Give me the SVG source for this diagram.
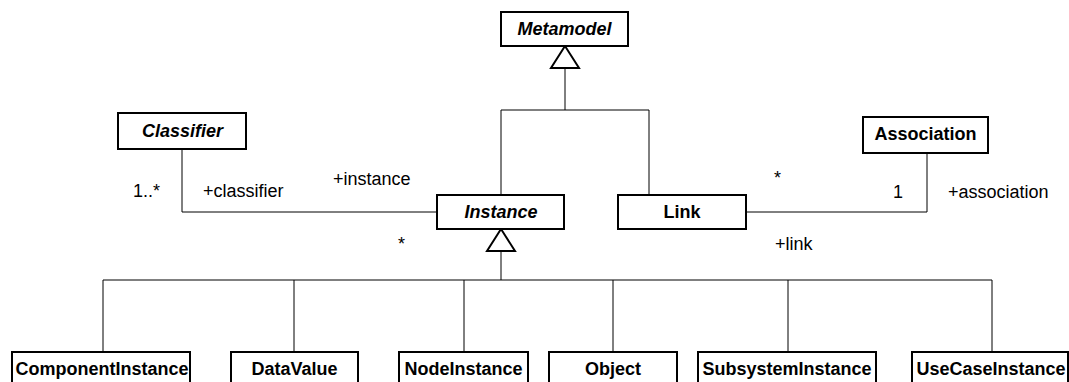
<svg xmlns="http://www.w3.org/2000/svg" width="1069" height="382" viewBox="0 0 1069 382">
<style>
.box{fill:#fff;stroke:#000;stroke-width:2}
.t{font-family:"Liberation Sans",Arial,sans-serif;font-size:18px;font-weight:bold;fill:#000;text-anchor:middle}
.i{font-style:italic}
.l{font-family:"Liberation Sans",Arial,sans-serif;font-size:18px;fill:#000}
.c{fill:none;stroke:#000;stroke-width:1}
.tri{fill:#fff;stroke:#000;stroke-width:2;stroke-linejoin:miter}
</style>
<rect width="1069" height="382" fill="#fff"/>
<g id="connectors">
<polyline class="c" points="565,68 565,110"/>
<polyline class="c" points="501,195 501,110 649,110 649,195"/>
<polyline class="c" points="182,149 182,212 437,212"/>
<polyline class="c" points="746,212 927,212 927,153"/>
<polyline class="c" points="501,251 501,280"/>
<polyline class="c" points="103,352 103,280 992,280 992,352"/>
<line class="c" x1="294" y1="280" x2="294" y2="352"/>
<line class="c" x1="464" y1="280" x2="464" y2="352"/>
<line class="c" x1="613" y1="280" x2="613" y2="352"/>
<line class="c" x1="788" y1="280" x2="788" y2="352"/>
<polygon class="tri" points="565,46 551,68 579,68"/>
<polygon class="tri" points="501,229 487,251 515,251"/>
<text class="l" x="133" y="197">1..*</text>
<text class="l" x="203" y="197">+classifier</text>
<text class="l" x="333" y="185">+instance</text>
<text class="l" x="398" y="250">*</text>
<text class="l" x="774" y="184">*</text>
<text class="l" x="893" y="198">1</text>
<text class="l" x="948" y="198">+association</text>
<text class="l" x="775" y="250">+link</text>
</g>
<g id="Metamodel"><rect class="box" x="501" y="12" width="127" height="34"/><text class="t i" x="564.5" y="35">Metamodel</text></g>
<g id="Classifier"><rect class="box" x="118" y="113" width="128" height="36"/><text class="t i" x="182.5" y="137">Classifier</text></g>
<g id="Association"><rect class="box" x="863" y="117" width="125" height="36"/><text class="t" x="925.5" y="140">Association</text></g>
<g id="Instance"><rect class="box" x="437" y="195" width="127" height="34"/><text class="t i" x="501" y="218">Instance</text></g>
<g id="Link"><rect class="box" x="618" y="195" width="128" height="34"/><text class="t" x="682" y="218">Link</text></g>
<g id="ComponentInstance"><rect class="box" x="12" y="352" width="178" height="40"/><text class="t" x="102" y="375">ComponentInstance</text></g>
<g id="DataValue"><rect class="box" x="231" y="352" width="127" height="40"/><text class="t" x="294.5" y="375">DataValue</text></g>
<g id="NodeInstance"><rect class="box" x="399" y="352" width="129" height="40"/><text class="t" x="463.5" y="375">NodeInstance</text></g>
<g id="Object"><rect class="box" x="549" y="352" width="128" height="40"/><text class="t" x="613" y="375">Object</text></g>
<g id="SubsystemInstance"><rect class="box" x="698" y="352" width="178" height="40"/><text class="t" x="787" y="375">SubsystemInstance</text></g>
<g id="UseCaseInstance"><rect class="box" x="912" y="352" width="156" height="40"/><text class="t" x="991" y="375">UseCaseInstance</text></g>
</svg>
